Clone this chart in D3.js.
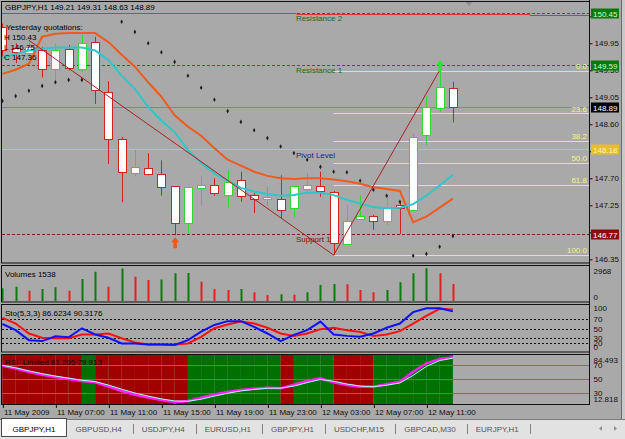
<!DOCTYPE html>
<html>
  <head>
    <meta charset="utf-8">
    <title>GBPJPY,H1</title>
    <script src="https://d3js.org/d3.v7.min.js"></script>
    <style>
      body { margin: 0; background: #a9a9a9; overflow: hidden; }
      svg { display: block; }
      text { font-family: "Liberation Sans", Arial, sans-serif; font-size: 8px; }
    </style>
  </head>
  <body>
    <script>
      // ====================================
      // GBPJPY,H1 ~ chart with sub windows
      // ====================================

      const symbol = "GBPJPY,H1";

      // candles, one per hour from 11 May 03:00
      const opens  = [150.22, 149.87, 149.79, 149.84, 149.52, 149.85, 149.52, 149.97, 149.14, 148.35,
                      147.78, 147.87, 147.77, 147.57, 146.95, 147.53, 147.58, 147.43, 147.67, 147.42,
                      147.35, 147.35, 147.20, 147.52, 147.57, 147.47, 146.60, 147.02, 147.07, 147.00,
                      147.26, 147.17, 148.42, 148.88, 149.21];
      const highs  = [150.28, 149.95, 150.00, 149.89, 149.95, 149.92, 150.10, 150.06, 149.32, 148.39,
                      148.17, 148.12, 148.00, 147.57, 147.56, 147.74, 147.70, 147.84, 147.81, 147.45,
                      147.56, 147.75, 147.57, 147.79, 147.81, 147.49, 147.25, 147.41, 147.09, 147.42,
                      147.31, 148.45, 149.06, 149.50, 149.31];
      const lows   = [149.73, 149.62, 149.70, 149.38, 149.30, 149.50, 149.47, 148.94, 147.94, 147.30,
                      147.73, 147.75, 147.41, 146.75, 146.78, 147.25, 147.41, 147.21, 147.31, 147.12,
                      147.23, 147.04, 147.04, 147.48, 147.39, 146.42, 146.60, 147.02, 146.84, 146.92,
                      146.77, 147.17, 148.25, 148.80, 148.63];
      const closes = [149.84, 149.80, 149.89, 149.53, 149.84, 149.53, 149.95, 149.17, 148.35, 147.80,
                      147.88, 147.77, 147.55, 146.95, 147.55, 147.58, 147.45, 147.64, 147.41, 147.35,
                      147.38, 147.17, 147.57, 147.59, 147.49, 146.62, 146.99, 147.07, 146.98, 147.23,
                      147.21, 148.39, 148.89, 149.23, 148.89];

      // moving averages on the price window
      const maOrange = [149.44, 149.51, 149.61, 150.06, 150.11, 150.12, 150.12, 150.12, 149.97, 149.76,
                        149.56, 149.30, 149.06, 148.75, 148.56, 148.41, 148.20, 148.01, 147.91, 147.81,
                        147.74, 147.70, 147.69, 147.70, 147.70, 147.68, 147.65, 147.61, 147.55, 147.52,
                        147.49, 146.97, 147.06, 147.21, 147.36];
      const maTeal   = [149.71, 149.77, 149.83, 149.86, 149.88, 149.88, 149.88, 149.83, 149.67, 149.41,
                        149.19, 148.89, 148.66, 148.47, 148.17, 147.96, 147.78, 147.66, 147.54, 147.48,
                        147.44, 147.41, 147.42, 147.46, 147.46, 147.42, 147.34, 147.28, 147.22, 147.20,
                        147.21, 147.27, 147.41, 147.58, 147.76];

      // parabolic SAR (null where no dot shows)
      const sar = [148.99, 149.07, 149.16, 149.24, 149.30, 149.34, 149.34, null, null, 150.31,
                   150.14, 149.95, 149.80, 149.64, 149.41, 149.21, 149.01, 148.82, 148.64, 148.50,
                   148.37, 148.23, 148.12, 148.01, 147.89, 147.81, 147.80, 147.66, 147.51, 147.41,
                   147.31, 146.41, 146.44, 146.56, 146.74];

      const volumes = [1153, 1298, 935, 1090, 1244, 935, 1998, 2660, 1298, 2950,
                       2206, 1907, 1950, 2515, 2540, 1752, 1090, 999, 1090, 790,
                       545, 608, 560, 790, 1453, 1544, 1520, 999, 790, 999,
                       1698, 2515, 2968, 2515, 1538];

      const stoMain   = [60, 47, 26, 24, 34, 32, 51, 38, 31, 19,
                         19, 17, 17, 16, 26, 44, 58, 66, 66, 54,
                         40, 24, 37, 47, 65, 38, 35, 33, 40, 52,
                         61, 85, 93, 93, 86.6234];
      const stoSignal = [73, 61, 40, 31, 30, 30, 38, 38, 40, 30,
                         21, 17, 17, 17, 19, 33, 51, 59, 65, 61,
                         52, 40, 35, 40, 49, 52, 47, 43, 35, 38,
                         45, 61, 77, 92, 90.3176];
      const stoLevels = [20, 30, 50, 70];
      const stoTicks = [100, 70, 50, 30, 20, 0];

      const rsiMain   = [69, 65, 60, 56, 52.6, 49.7, 46.8, 45, 38.8, 32.3,
                         27, 22.9, 19.3, 16, 17.8, 22.6, 27.2, 30.9, 33.8, 35.5,
                         37, 36.2, 41.4, 46.8, 50.7, 44.9, 41, 38.6, 38.6, 42,
                         45.8, 60.3, 72.5, 78.7, 81.295];
      const rsiSignal = [69.5, 66, 61.5, 57.5, 54, 51, 48, 46, 41, 35,
                         29.5, 25, 21, 18, 17.5, 20.5, 25, 29, 32.5, 34.7,
                         36.3, 36.5, 39.5, 44.5, 49, 46.5, 42.5, 39.5, 38.6, 40.8,
                         44, 55, 68, 76.5, 79.913];
      // 1 = green band, 0 = red band
      const rsiState = [0, 0, 0, 0, 0, 0, 0, 1, 0, 0,
                        0, 0, 0, 0, 0, 1, 1, 1, 1, 1,
                        1, 1, 0, 1, 1, 1, 0, 0, 0, 1,
                        1, 1, 1, 1, 1];
      const rsiLevels = [30, 50, 70];
      const rsiMin = 12.818, rsiMax = 84.493;

      const priceTicks = [146.35, 146.80, 147.25, 147.70, 148.15, 148.60, 149.05, 149.50, 149.95, 150.40];
      const timeTickBars = [0, 4, 8, 12, 16, 20, 24, 28, 32];
      const timeTickLabels = ["11 May 2009", "11 May 07:00", "11 May 11:00", "11 May 15:00", "11 May 19:00",
                              "11 May 23:00", "12 May 03:00", "12 May 07:00", "12 May 11:00"];

      const levelNames = ["Resistance 2", "Resistance 1", "Pivot Level", "Support 1"];
      const levelPrices = [150.45, 149.59, 148.18, 146.77];
      const levelLabelBar = 22;

      const fibLabels = ["0.0", "23.6", "38.2", "50.0", "61.8", "100.0"];
      const fibPrices = [149.49, 148.78, 148.32, 147.96, 147.59, 146.42];
      const fibStartBar = 25;

      const zigzagBars = [2, 25, 33];
      const zigzagPrices = [150.00, 146.42, 149.50];

      // red day-high line, steps between bar positions
      const dayLineBars = [-1, 22.2, 39.8, 45];
      const dayLinePrices = [150.46, 150.44, 150.42];

      const markValues = [150.45, 149.59, 148.89, 148.18, 146.77];

      const yesterdayKeys = ["H", "L", "C"];
      const yesterdayValues = [150.43, 146.75, 147.36];

      const tabs = ["GBPJPY,H1", "GBPUSD,H4", "USDJPY,H4", "EURUSD,H1", "GBPJPY,H1",
                    "USDCHF,M15", "GBPCAD,M30", "EURJPY,H1"];

      // ==================
      // layout
      // ==================
      const width = 625;
      const height = 439;
      const left = 2;
      const right = 589;
      const panels = [
        {top: 1, bottom: 263.5},
        {top: 265, bottom: 302.5},
        {top: 304, bottom: 352.5},
        {top: 354, bottom: 405}
      ];

      const bg = "#a9a9a9";
      const bullColor = "#33d633";
      const bearColor = "#cc2424";

      const svg = d3.select("body")
        .append("svg")
          .attr("width", width)
          .attr("height", height);

      svg.append("rect")
        .attr("width", width)
        .attr("height", height)
        .attr("fill", bg);

      const x = d3.scaleLinear().domain([0, 34]).range([2.4, 452.9]);
      const yMain = d3.scaleLinear().domain([146.35, 149.95]).range([259.3, 43.3]);
      const yVol = d3.scaleLinear().domain([0, 2968]).range([301, 268.3]);
      const ySto = d3.scaleLinear().domain([0, 100]).range([352.5, 305]);
      const yRsi = d3.scaleLinear().domain([rsiMin, rsiMax]).range([404.5, 355]);

      const defs = svg.append("defs");
      panels.forEach(function(p, i) {
        defs.append("clipPath").attr("id", "clip" + i)
          .append("rect")
            .attr("x", left).attr("y", p.top)
            .attr("width", right - left).attr("height", p.bottom - p.top);
      });

      const main = svg.append("g").attr("clip-path", "url(#clip0)");
      const volG = svg.append("g").attr("clip-path", "url(#clip1)");
      const stoG = svg.append("g").attr("clip-path", "url(#clip2)");
      const rsiG = svg.append("g").attr("clip-path", "url(#clip3)");

      function hline(g, y, x0, x1, color, dash) {
        g.append("line")
          .attr("x1", x0).attr("x2", x1)
          .attr("y1", Math.round(y) + 0.5).attr("y2", Math.round(y) + 0.5)
          .attr("stroke", color)
          .attr("stroke-dasharray", dash || null);
      }

      // ==================
      // price window
      // ==================
      const levelColors = ["#2a6a2a", "#2a6a2a", "#e6bf3c", "#7a1c1c"];
      const levelDash = ["3,2", "3,2", null, "3,2"];
      const levelTextColors = ["#1e6a1e", "#1e6a1e", "#1c1c8c", "#7a1010"];

      // bid line
      hline(main, yMain(closes[34]), left, right, "#7688a4");

      levelPrices.forEach(function(p, i) {
        hline(main, yMain(p), left, right, levelColors[i], levelDash[i]);
      });

      for (let i = 0; i < dayLinePrices.length; i++) {
        hline(main, yMain(dayLinePrices[i]), x(dayLineBars[i]), x(dayLineBars[i + 1]), "#d23a3a");
      }

      fibPrices.forEach(function(p) {
        hline(main, yMain(p), x(fibStartBar), right, "#eded55");
      });

      // candles
      closes.forEach(function(c, i) {
        const bull = c >= opens[i];
        const color = bull ? bullColor : bearColor;
        const cx = Math.round(x(i)) + 0.5;
        main.append("line")
          .attr("x1", cx).attr("x2", cx)
          .attr("y1", yMain(highs[i])).attr("y2", yMain(lows[i]))
          .attr("stroke", color);
        const top = yMain(Math.max(c, opens[i]));
        const bot = yMain(Math.min(c, opens[i]));
        main.append("rect")
          .attr("x", cx - 4).attr("y", Math.round(top) + 0.5)
          .attr("width", 8).attr("height", Math.max(1, Math.round(bot - top)))
          .attr("fill", "#ffffff")
          .attr("stroke", color);
      });

      const priceLine = d3.line()
        .x(function(d, i) { return x(i); })
        .y(function(d) { return yMain(d); });

      main.append("path")
        .attr("d", priceLine(maOrange))
        .attr("fill", "none")
        .attr("stroke", "#f05a1e")
        .attr("stroke-width", 2);

      main.append("path")
        .attr("d", priceLine(maTeal))
        .attr("fill", "none")
        .attr("stroke", "#2fc6c6")
        .attr("stroke-width", 2);

      // zigzag
      main.append("path")
        .attr("d", d3.line()
          .x(function(d, i) { return x(zigzagBars[i]); })
          .y(function(d) { return yMain(d); })(zigzagPrices))
        .attr("fill", "none")
        .attr("stroke", "#a82020");

      // SAR dots
      sar.forEach(function(s, i) {
        if (s === null) return;
        main.append("path")
          .attr("d", d3.symbol().type(d3.symbolDiamond).size(6)())
          .attr("transform", "translate(" + x(i) + "," + yMain(s) + ")")
          .attr("fill", "#1e1e1e");
      });

      // arrows
      function upArrow(cx, tipY, color) {
        main.append("path")
          .attr("d", "M" + cx + "," + tipY + "l4,5h-2.2v6h-3.6v-6h-2.2z")
          .attr("fill", color);
      }
      upArrow(x(13) + 0.5, yMain(lows[13]) + 2, "#f0561e");
      upArrow(x(33) + 0.5, yMain(highs[33]) - 10, "#22ee22");

      // level and fib texts
      levelNames.forEach(function(name, i) {
        main.append("text")
          .attr("x", x(levelLabelBar) + 2)
          .attr("y", yMain(levelPrices[i]) + 8)
          .attr("fill", levelTextColors[i])
          .text(name);
      });

      fibLabels.forEach(function(label, i) {
        main.append("text")
          .attr("x", right - 2)
          .attr("y", yMain(fibPrices[i]) - 2)
          .attr("text-anchor", "end")
          .attr("fill", "#f5f58a")
          .text(label);
      });

      main.append("text")
        .attr("x", 5).attr("y", 10)
        .text(symbol + " " + [opens[34], highs[34], lows[34], closes[34]].map(d3.format(".2f")).join(" "));

      main.append("text").attr("x", 6).attr("y", 30).text("Yesterday quotations:");
      yesterdayKeys.forEach(function(k, i) {
        main.append("text")
          .attr("x", 4).attr("y", 40 + i * 10)
          .text(k + " " + d3.format(".2f")(yesterdayValues[i]));
      });

      // chart shift marker
      svg.append("path")
        .attr("d", "M" + (x(35.2) - 4) + ",1h8l-4,5z")
        .attr("fill", "#8a8a8a");

      // ==================
      // volumes
      // ==================
      volumes.forEach(function(v, i) {
        const up = i === 0 || v > volumes[i - 1];
        const cx = Math.round(x(i)) + 0.5;
        volG.append("line")
          .attr("x1", cx).attr("x2", cx)
          .attr("y1", yVol(0)).attr("y2", yVol(v))
          .attr("stroke", up ? "#0b7d0b" : "#e42020")
          .attr("stroke-width", 2);
      });
      volG.append("text").attr("x", 5).attr("y", 277).text("Volumes " + volumes[34]);

      // ==================
      // stochastic
      // ==================
      stoLevels.forEach(function(l) {
        hline(stoG, ySto(l), left, right, "#111111", "2,2");
      });
      const stoLine = d3.line()
        .x(function(d, i) { return x(i); })
        .y(function(d) { return ySto(d); });
      stoG.append("path").attr("d", stoLine(stoSignal))
        .attr("fill", "none").attr("stroke", "#ff1010").attr("stroke-width", 2);
      stoG.append("path").attr("d", stoLine(stoMain))
        .attr("fill", "none").attr("stroke", "#1010ff").attr("stroke-width", 2);
      stoG.append("text").attr("x", 5).attr("y", 316)
        .text("Sto(5,3,3) " + stoMain[34] + " " + stoSignal[34]);

      // ==================
      // RSI limited
      // ==================
      rsiState.forEach(function(s, i) {
        rsiG.append("rect")
          .attr("x", x(i - 1)).attr("y", panels[3].top)
          .attr("width", x(i) - x(i - 1)).attr("height", panels[3].bottom - panels[3].top)
          .attr("fill", s ? "#007000" : "#a00000");
      });
      rsiLevels.forEach(function(l) {
        hline(rsiG, yRsi(l), left, right, "#4a6ee6");
      });
      const rsiLine = d3.line()
        .x(function(d, i) { return x(i); })
        .y(function(d) { return yRsi(d); });
      rsiG.append("path").attr("d", rsiLine(rsiMain))
        .attr("fill", "none").attr("stroke", "#ff20ff").attr("stroke-width", 2.5);
      rsiG.append("path").attr("d", rsiLine(rsiSignal))
        .attr("fill", "none").attr("stroke", "#a8ffff").attr("stroke-width", 1);
      rsiG.append("text").attr("x", 5).attr("y", 365)
        .attr("fill", "#1a0000")
        .text("RSI_Limited " + rsiMain[34] + " " + rsiSignal[34]);

      // ==================
      // frames and axes
      // ==================
      panels.forEach(function(p) {
        svg.append("rect")
          .attr("x", 1.5).attr("y", p.top + 0.5)
          .attr("width", right - 1).attr("height", p.bottom - p.top - 1)
          .attr("fill", "none")
          .attr("stroke", "#101010");
      });

      function styleAxis(g) {
        g.select(".domain").remove();
        g.selectAll("line").attr("stroke", "#101010");
        g.selectAll("text")
          .attr("font-size", null)
          .attr("fill", "#101010");
        g.attr("font-family", null).attr("font-size", null);
      }

      // labels that sit fully under a price mark box are left empty
      function hiddenByMark(v) {
        return markValues.some(function(m) { return Math.abs(yMain(m) - yMain(v)) < 3; });
      }

      svg.append("g")
        .attr("transform", "translate(" + (right + 0.5) + ",0)")
        .call(d3.axisRight(yMain).tickValues(priceTicks)
          .tickFormat(function(d) { return hiddenByMark(d) ? "" : d3.format(".2f")(d); })
          .tickSize(3).tickPadding(2))
        .call(styleAxis);

      function clampAxis(scale, lo, hi) {
        return function(g) {
          styleAxis(g);
          g.selectAll("text")
            .attr("dy", "0.32em")
            .attr("y", function(d) {
              const y = scale(d);
              return Math.max(lo, Math.min(hi, y)) - y;
            });
        };
      }

      svg.append("g")
        .attr("transform", "translate(" + (right + 0.5) + ",0)")
        .call(d3.axisRight(yVol).tickValues([0, 2968]).tickFormat(d3.format("d")).tickSize(0).tickPadding(4))
        .call(clampAxis(yVol, 271, 297));

      svg.append("g")
        .attr("transform", "translate(" + (right + 0.5) + ",0)")
        .call(d3.axisRight(ySto).tickValues(stoTicks).tickSize(0).tickPadding(4))
        .call(clampAxis(ySto, 308, 347));

      svg.append("g")
        .attr("transform", "translate(" + (right + 0.5) + ",0)")
        .call(d3.axisRight(yRsi).tickValues([rsiMax].concat(rsiLevels.slice().reverse(), [rsiMin]))
          .tickFormat(function(d) { return (d === rsiMax || d === rsiMin) ? d3.format(".3f")(d) : d; })
          .tickSize(0).tickPadding(4))
        .call(clampAxis(yRsi, 360, 399));

      svg.append("line")
        .attr("x1", right + 0.5).attr("x2", right + 0.5)
        .attr("y1", 0).attr("y2", 405)
        .attr("stroke", "#101010");

      const timeAxis = svg.append("g")
        .attr("transform", "translate(0,405)")
        .call(d3.axisBottom(x).tickValues(timeTickBars)
          .tickFormat(function(d, i) { return timeTickLabels[i]; })
          .tickSize(3))
        .call(styleAxis);
      timeAxis.selectAll(".tick line").attr("transform", "translate(0.5,0)");
      timeAxis.selectAll("text")
        .attr("text-anchor", "start")
        .attr("x", 1)
        .attr("y", 4)
        .attr("dy", "0.71em");

      // window edge
      svg.append("rect")
        .attr("x", 621).attr("y", 0)
        .attr("width", 4).attr("height", 419)
        .attr("fill", "#c8c8c8");
      svg.append("line")
        .attr("x1", 621.5).attr("x2", 621.5).attr("y1", 0).attr("y2", 419)
        .attr("stroke", "#6a6a6a");

      // ==================
      // symbol tabs
      // ==================
      const tabBar = svg.append("g");
      tabBar.append("rect")
        .attr("x", 0).attr("y", 419)
        .attr("width", width).attr("height", 20)
        .attr("fill", "#e2e2e2");
      hline(tabBar, 419, 0, width, "#7a7a7a");

      let cursor = 2;
      tabs.forEach(function(name, i) {
        const t = tabBar.append("text")
          .attr("y", 432)
          .attr("fill", i === 0 ? "#000000" : "#555555")
          .text(name);
        const w = t.node().getComputedTextLength();
        if (i === 0) {
          tabBar.insert("rect", "text")
            .attr("x", 1.5).attr("y", 418.5)
            .attr("width", w + 22).attr("height", 18)
            .attr("fill", "#ffffff")
            .attr("stroke", "#4a4a4a");
          t.attr("x", 1.5 + 11);
          cursor = 1.5 + w + 22 + 9;
        } else {
          t.attr("x", cursor);
          cursor += w + 11;
          tabBar.append("line")
            .attr("x1", Math.round(cursor) + 0.5).attr("x2", Math.round(cursor) + 0.5)
            .attr("y1", 424).attr("y2", 434)
            .attr("stroke", "#808080");
          cursor += 9;
        }
      });
      tabBar.append("path").attr("d", "M602,426l-3,2.5l3,2.5z").attr("fill", "#909090");
      tabBar.append("path").attr("d", "M614,426l3,2.5l-3,2.5z").attr("fill", "#909090");

      // ==================
      // price marks on the axis
      // ==================
      const markFill = ["#0c780c", "#0c780c", "#000000", "#e8bd2a", "#8a0c0c"];
      const markText = ["#c8ffc8", "#c8ffc8", "#ffffff", "#fff6b0", "#ffffff"];
      markValues.forEach(function(v, i) {
        const y = yMain(v);
        svg.append("rect")
          .attr("x", right + 2).attr("y", Math.round(y) - 4.5)
          .attr("width", 28).attr("height", 10)
          .attr("fill", markFill[i]);
        svg.append("text")
          .attr("x", right + 4).attr("y", Math.round(y) + 3.5)
          .attr("fill", markText[i])
          .text(d3.format(".2f")(v));
      });
    </script>
  </body>
</html>
